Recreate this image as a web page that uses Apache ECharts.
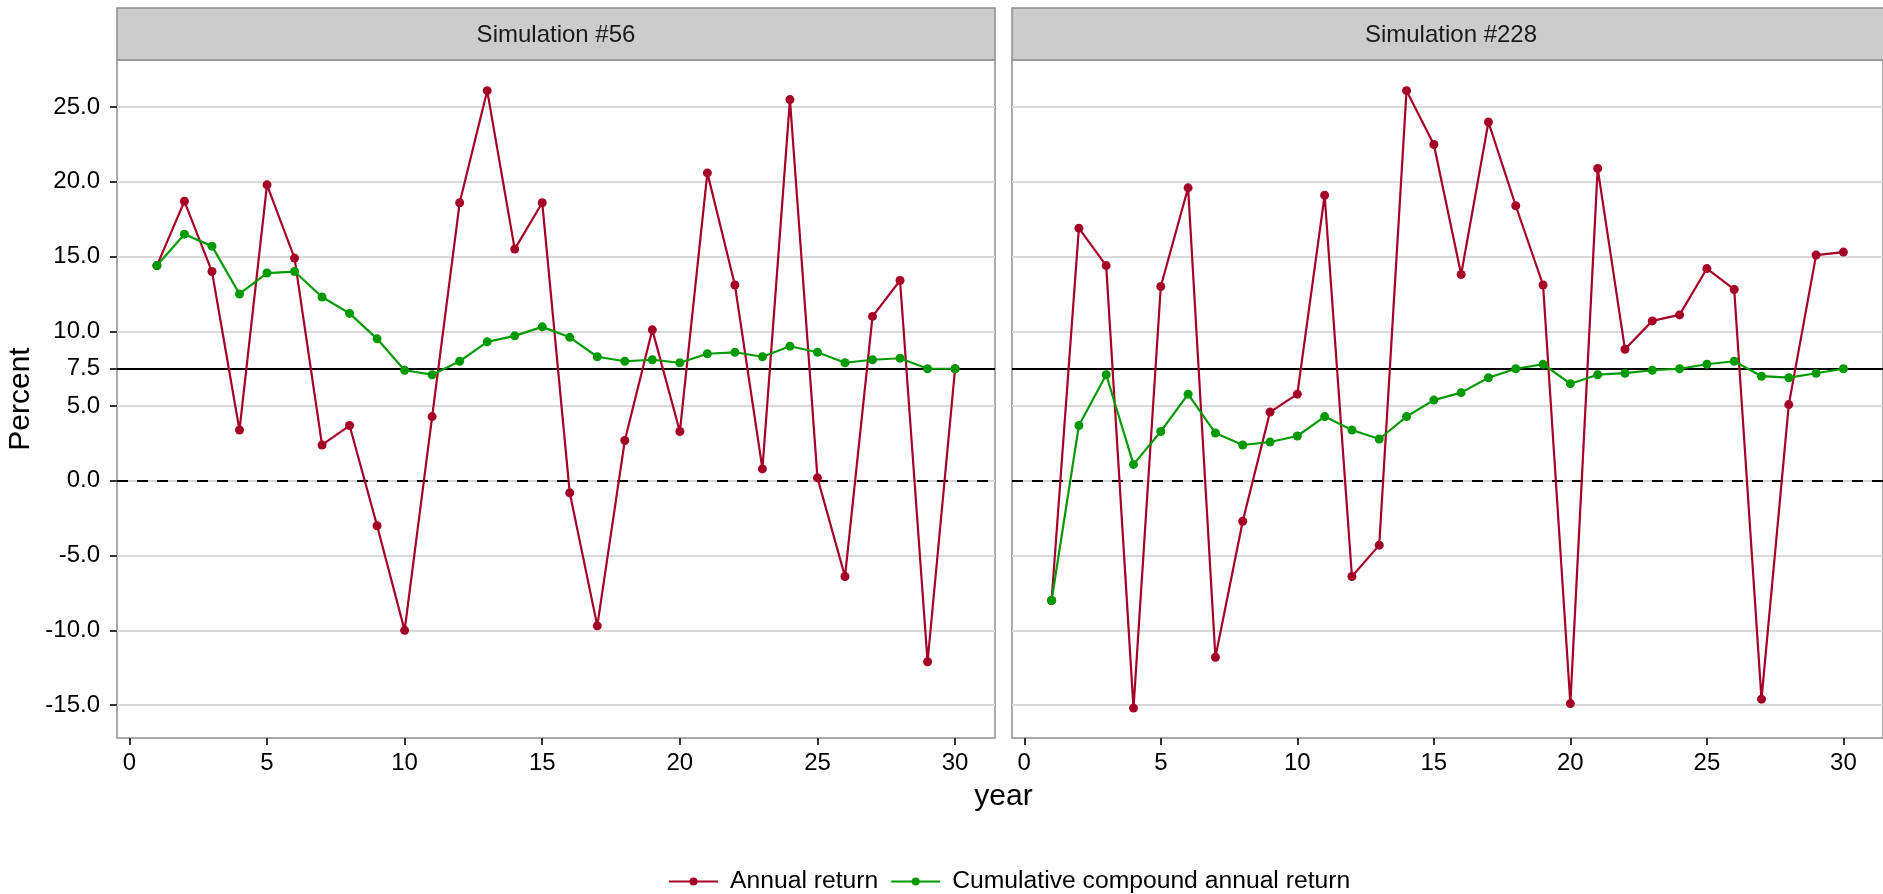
<!DOCTYPE html>
<html>
<head>
<meta charset="utf-8">
<script src="https://cdn.jsdelivr.net/npm/echarts@6/dist/echarts.min.js"></script>
<style>
  html, body { margin: 0; padding: 0; background: #ffffff; }
  #chart { width: 1883px; height: 894px; }
</style>
</head>
<body>
<div id="chart"></div>
<script>
// Thirty simulated years, two simulations side by side.
const years = [1, 2, 3, 4, 5, 6, 7, 8, 9, 10, 11, 12, 13, 14, 15,
               16, 17, 18, 19, 20, 21, 22, 23, 24, 25, 26, 27, 28, 29, 30];

const panelTitles = ['Simulation #56', 'Simulation #228'];
const seriesNames = ['Annual return', 'Cumulative compound annual return'];

// Simulation #56
const sim56Annual = [14.4, 18.7, 14.0, 3.4, 19.8, 14.9, 2.4, 3.7, -3.0, -10.0,
                     4.3, 18.6, 26.1, 15.5, 18.6, -0.8, -9.7, 2.7, 10.1, 3.3,
                     20.6, 13.1, 0.8, 25.5, 0.2, -6.4, 11.0, 13.4, -12.1, 7.5];
const sim56Cumulative = [14.4, 16.5, 15.7, 12.5, 13.9, 14.0, 12.3, 11.2, 9.5, 7.4,
                         7.1, 8.0, 9.3, 9.7, 10.3, 9.6, 8.3, 8.0, 8.1, 7.9,
                         8.5, 8.6, 8.3, 9.0, 8.6, 7.9, 8.1, 8.2, 7.5, 7.5];

// Simulation #228
const sim228Annual = [-8.0, 16.9, 14.4, -15.2, 13.0, 19.6, -11.8, -2.7, 4.6, 5.8,
                      19.1, -6.4, -4.3, 26.1, 22.5, 13.8, 24.0, 18.4, 13.1, -14.9,
                      20.9, 8.8, 10.7, 11.1, 14.2, 12.8, -14.6, 5.1, 15.1, 15.3];
const sim228Cumulative = [-8.0, 3.7, 7.1, 1.1, 3.3, 5.8, 3.2, 2.4, 2.6, 3.0,
                          4.3, 3.4, 2.8, 4.3, 5.4, 5.9, 6.9, 7.5, 7.8, 6.5,
                          7.1, 7.2, 7.4, 7.5, 7.8, 8.0, 7.0, 6.9, 7.2, 7.5];

// Axis breaks and reference levels
const xTicks = [0, 5, 10, 15, 20, 25, 30];
const yTicks = [-15, -10, -5, 0, 5, 7.5, 10, 15, 20, 25];
const yGridValues = [-15, -10, -5, 0, 5, 10, 15, 20, 25];
const targetReturn = 7.5;
const zeroReturn = 0;

const panelData = [
  [sim56Annual, sim56Cumulative],
  [sim228Annual, sim228Cumulative]
];

// ---- styling ----
const FONT = '"Liberation Sans", Arial, sans-serif';
const RED = '#a50026';
const GREEN = '#009a00';
const GRIDLINE = '#d9d9d9';
const BORDER = '#8f8f8f';
const STRIP_FILL = '#cccccc';

const X_RANGE = [-0.45, 31.45];
const Y_RANGE = [-17.2, 28.15];

const panelLeft = [117, 1012];
const panelWidth = 878;
const panelTop = 60;
const panelHeight = 678;
const stripTop = 8;

const grids = panelLeft.map(left => ({
  left: left, top: panelTop, width: panelWidth, height: panelHeight,
  show: true, borderColor: BORDER, borderWidth: 1.5, backgroundColor: '#ffffff'
}));

const xAxes = panelLeft.map((_, i) => ({
  type: 'value', gridIndex: i, min: X_RANGE[0], max: X_RANGE[1],
  axisLine: { show: false, onZero: false },
  axisTick: { show: true, customValues: xTicks, length: 7, lineStyle: { color: '#333333', width: 2 } },
  axisLabel: { customValues: xTicks, fontFamily: FONT, fontSize: 24, color: '#000000', margin: 13 },
  splitLine: { show: false }
}));

const yAxes = panelLeft.map((_, i) => ({
  type: 'value', gridIndex: i, min: Y_RANGE[0], max: Y_RANGE[1],
  axisLine: { show: false, onZero: false },
  axisTick: i === 0
    ? { show: true, customValues: yTicks, length: 7, lineStyle: { color: '#333333', width: 2 } }
    : { show: false },
  axisLabel: i === 0
    ? { show: true, customValues: yTicks, fontFamily: FONT, fontSize: 24, color: '#000000', margin: 17,
        formatter: v => Number(v).toFixed(1) }
    : { show: false },
  splitLine: { show: false }
}));

const series = [];
panelLeft.forEach((_, i) => {
  // horizontal grid lines, kept beneath everything else
  series.push({
    type: 'line', xAxisIndex: i, yAxisIndex: i, data: [], z: 1, silent: true,
    markLine: {
      z: 1, silent: true, symbol: 'none', animation: false, label: { show: false },
      lineStyle: { color: GRIDLINE, width: 2, type: 'solid' },
      emphasis: { disabled: true },
      data: yGridValues.map(v => ({ yAxis: v }))
    }
  });
  // target return (solid) and zero (dashed) reference lines
  series.push({
    type: 'line', xAxisIndex: i, yAxisIndex: i, data: [], z: 2, silent: true,
    markLine: {
      z: 2, silent: true, symbol: 'none', animation: false, label: { show: false },
      emphasis: { disabled: true },
      data: [
        { yAxis: targetReturn, lineStyle: { color: '#000000', width: 2, type: 'solid' } },
        { yAxis: zeroReturn, lineStyle: { color: '#000000', width: 2, type: [11, 9] } }
      ]
    }
  });
  // annual and cumulative return lines
  [RED, GREEN].forEach((color, k) => {
    series.push({
      name: seriesNames[k], type: 'line', xAxisIndex: i, yAxisIndex: i, z: 3 + k,
      data: years.map((yr, j) => [yr, panelData[i][k][j]]),
      symbol: 'circle', symbolSize: 9, showSymbol: true,
      lineStyle: { color: color, width: 2.2 },
      itemStyle: { color: color, borderWidth: 0 },
      emphasis: { disabled: true }
    });
  });
});

// facet strips, axis titles
const graphics = [];
panelLeft.forEach((left, i) => {
  graphics.push({
    type: 'rect', z: 10,
    shape: { x: left, y: stripTop, width: panelWidth, height: panelTop - stripTop },
    style: { fill: STRIP_FILL, stroke: BORDER, lineWidth: 1.5 }
  });
  graphics.push({
    type: 'text', z: 11, x: left + panelWidth / 2, y: (stripTop + panelTop) / 2 + 1,
    style: { text: panelTitles[i], fontFamily: FONT, fontSize: 24, fill: '#1a1a1a',
             align: 'center', verticalAlign: 'middle' }
  });
});
graphics.push({
  type: 'text', z: 11, x: (panelLeft[0] + panelLeft[1] + panelWidth) / 2, y: 797,
  style: { text: 'year', fontFamily: FONT, fontSize: 30, fill: '#000000',
           align: 'center', verticalAlign: 'middle' }
});
graphics.push({
  type: 'text', z: 11, x: 21, y: panelTop + panelHeight / 2, rotation: Math.PI / 2,
  style: { text: 'Percent', fontFamily: FONT, fontSize: 30, fill: '#000000',
           align: 'center', verticalAlign: 'middle' }
});

const chart = echarts.init(document.getElementById('chart'), null, { renderer: 'canvas' });
chart.setOption({
  animation: false,
  backgroundColor: '#ffffff',
  grid: grids,
  xAxis: xAxes,
  yAxis: yAxes,
  series: series,
  graphic: graphics,
  legend: {
    data: seriesNames,
    left: 663, top: 864,
    itemWidth: 49, itemHeight: 10, itemGap: 12,
    textStyle: { fontFamily: FONT, fontSize: 24.7, color: '#000000', padding: [0, 0, 0, 7] },
    selectedMode: false
  }
});
</script>
</body>
</html>
